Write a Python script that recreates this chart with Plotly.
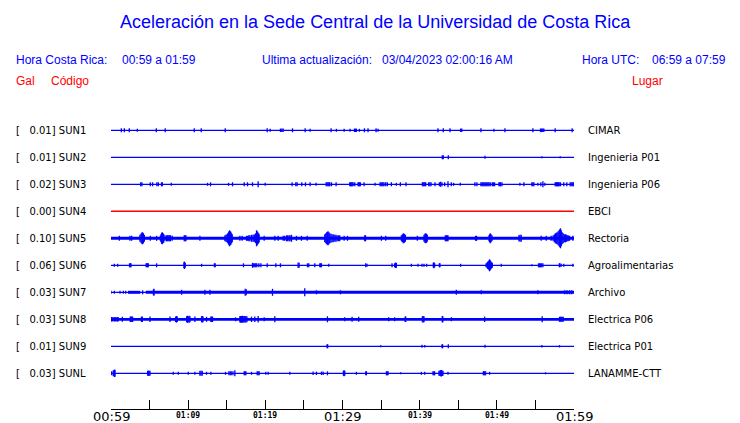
import plotly.graph_objects as go

# ---------------- data ----------------
codes = ["SUN1", "SUN2", "SUN3", "SUN4", "SUN5", "SUN6", "SUN7", "SUN8", "SUN9", "SUNL"]
places = ["CIMAR", "Ingenieria P01", "Ingenieria P06", "EBCI", "Rectoria",
          "Agroalimentarias", "Archivo", "Electrica P06", "Electrica P01", "LANAMME-CTT"]
peak_gal = ["0.01", "0.01", "0.02", "0.00", "0.10", "0.06", "0.03", "0.03", "0.01", "0.03"]
trace_colors = ["#0000ff", "#0000ff", "#0000ff", "#ff0000", "#0000ff",
                "#0000ff", "#0000ff", "#0000ff", "#0000ff", "#0000ff"]

# minutes after 00:59 (local time)
tick_minutes = [0, 5, 10, 15, 20, 25, 30, 35, 40, 45, 50, 55, 60]
tick_labels = ["00:59", "", "01:09", "", "01:19", "", "01:29", "", "01:39", "", "01:49", "", "01:59"]
tick_major = [True, False, False, False, False, False, True, False, False, False, False, False, True]

# background noise level (half thickness, display px) over time spans [t0, t1, level]
sun1_noise = [[0, 60, 0.65]]
sun2_noise = [[0, 60, 0.65]]
sun3_noise = [[0, 60, 0.65]]
sun4_noise = [[0, 60, 0.7]]
sun5_noise = [[0, 60, 1.45]]
sun6_noise = [[0, 60, 0.6]]
sun7_noise = [[0, 60, 0.6], [2.2, 3.8, 1.5], [4.5, 60, 1.5]]
sun8_noise = [[0, 60, 1.4], [0, 1.0, 2.0]]
sun9_noise = [[0, 60, 0.6]]
sunl_noise = [[0, 60, 0.6]]

# bursts: (minute, half amplitude in display px)
sun1_events = [(1.34, 2), (1.73, 2), (2.37, 2), (3.41, 1.5), (5.87, 2), (7.03, 2), (10.79, 2),
               (11.69, 2), (14.80, 2), (20.24, 2), (20.63, 1.5), (21.96, 1.7), (22.14, 1.7),
               (22.31, 1.7), (23.52, 2), (25.16, 2), (25.80, 1.5), (28.52, 2), (29.21, 1.5),
               (30.21, 1.5), (30.98, 1.5), (31.55, 1.7), (31.67, 1.7), (31.80, 1.7), (32.19, 1.5),
               (32.84, 2), (33.31, 2), (34.35, 2), (34.61, 1.5), (42.37, 2), (43.06, 2),
               (43.93, 2), (45.30, 1.7), (45.45, 1.7), (47.94, 2), (49.62, 1.5), (51.05, 2),
               (54.67, 2), (55.66, 1.8), (55.80, 1.8), (55.95, 1.8), (56.09, 1.8), (57.56, 2),
               (59.76, 2)]
sun2_events = [(42.93, 2), (43.06, 2), (43.71, 2), (48.46, 1.5), (55.84, 1), (58.21, 1)]
sun3_events = [(3.84, 2), (4.01, 2), (5.09, 2), (5.39, 2), (5.95, 2), (6.13, 2), (6.55, 2),
               (6.65, 2), (7.81, 1.5), (12.51, 1.5), (12.90, 2), (15.23, 1.5), (15.75, 2),
               (17.26, 2), (17.69, 2), (18.34, 2), (19.07, 3), (19.98, 1.5), (23.47, 2),
               (23.95, 2), (24.12, 2), (24.72, 2), (25.20, 2), (25.80, 2), (26.58, 1.5),
               (27.88, 2), (28.00, 2), (28.13, 2), (28.25, 2), (28.35, 2), (28.57, 2),
               (29.17, 2), (30.94, 2), (31.05, 2), (31.15, 2), (31.26, 2), (31.37, 2),
               (31.59, 2), (32.02, 2), (32.10, 2), (32.19, 2), (32.32, 2), (32.79, 2),
               (34.22, 1.5), (34.87, 2), (35.00, 2), (35.12, 2), (35.25, 2), (35.38, 2),
               (35.60, 2), (35.81, 2), (36.33, 2), (36.98, 1.5), (37.50, 2), (38.23, 2),
               (40.35, 2), (40.45, 2), (40.56, 2), (40.67, 2), (40.78, 2), (41.17, 2),
               (41.32, 2), (41.47, 2), (41.99, 2), (42.55, 2), (42.72, 2.5), (42.89, 2),
               (43.24, 2), (43.67, 3), (44.10, 2), (44.40, 1.5), (45.26, 1.5), (47.16, 2),
               (47.42, 2), (47.94, 2), (48.07, 2), (48.20, 2), (48.33, 2), (48.46, 2),
               (48.59, 2), (48.72, 2), (48.85, 2), (48.98, 2), (49.15, 2), (49.41, 2),
               (49.55, 2), (49.71, 2), (50.27, 2), (50.38, 2), (50.49, 2), (50.66, 2),
               (52.99, 1.5), (53.51, 2), (54.54, 2), (54.67, 2), (54.80, 2), (55.32, 1.5),
               (55.71, 2), (55.97, 3), (56.22, 1.5), (57.56, 2), (57.66, 2), (57.74, 2),
               (57.83, 2), (57.91, 2), (58.00, 2), (58.08, 2), (58.25, 2), (58.68, 2),
               (59.07, 2), (59.50, 2), (59.62, 2), (59.76, 2), (59.88, 2), (59.98, 2)]
sun4_events = []
sun5_events = [(1.08, 2.5), (2.46, 2.5), (2.68, 2.5), (3.75, 3.5), (3.88, 4.5), (4.00, 5.5),
               (4.06, 6), (4.12, 5.5), (4.19, 5), (4.32, 3.5), (5.09, 2.5), (5.91, 2.5),
               (6.39, 2.5), (6.47, 4), (6.56, 5.5), (6.65, 6), (6.73, 5), (6.82, 4.5),
               (6.99, 3), (7.20, 3), (7.29, 3), (7.40, 3), (7.51, 3), (7.62, 3), (7.72, 3),
               (7.94, 2.5), (9.49, 3), (9.60, 3), (9.71, 3), (11.52, 2.5), (14.76, 3),
               (14.90, 3.5), (15.02, 4), (15.13, 5), (15.23, 6), (15.30, 7), (15.36, 8),
               (15.45, 7), (15.53, 6.5), (15.62, 5), (15.71, 4), (16.70, 2.5), (17.00, 2.5),
               (17.56, 2.5), (17.70, 2.5), (17.86, 3), (18.00, 3), (18.21, 3.5), (18.40, 3.5),
               (18.53, 3.5), (18.64, 4), (18.75, 5), (18.86, 8), (18.95, 7), (19.03, 6),
               (19.12, 5), (19.20, 4), (19.85, 2.5), (21.23, 2.5), (21.66, 2.5), (22.31, 2.5),
               (22.50, 2.5), (22.74, 3), (22.90, 3), (23.08, 3), (23.20, 3), (23.39, 3.5),
               (24.03, 2.5), (24.68, 2.5), (25.42, 2.5), (27.70, 4), (27.83, 5), (27.96, 6),
               (28.05, 6.5), (28.13, 7), (28.24, 6), (28.35, 5), (28.50, 4.5), (28.65, 4),
               (28.80, 4), (29.00, 3.5), (29.15, 3.5), (29.30, 3), (29.47, 3), (29.64, 3),
               (30.21, 2.5), (30.64, 2.5), (32.88, 3), (32.98, 3), (35.04, 2.5), (35.60, 2.5),
               (37.63, 3), (37.76, 4), (37.89, 5), (38.02, 4.5), (38.15, 3.5), (39.70, 2.5),
               (40.56, 3.5), (40.67, 4.5), (40.78, 5), (40.88, 4.5), (40.99, 3.5), (43.32, 3),
               (43.45, 3), (43.57, 3), (43.67, 3), (47.25, 2.5), (47.38, 2.5), (48.98, 3),
               (49.07, 4), (49.15, 5), (49.25, 4), (49.37, 3), (52.86, 3), (53.00, 3.5),
               (53.16, 3.5), (55.75, 2.5), (56.40, 2.5), (57.04, 2.5), (57.30, 3), (57.47, 4),
               (57.60, 5), (57.70, 5.5), (57.82, 6), (57.95, 7), (58.08, 8), (58.16, 9),
               (58.25, 10), (58.35, 8), (58.47, 6), (58.60, 5), (58.77, 4), (58.90, 4),
               (59.00, 3.5), (59.12, 3), (59.25, 3), (59.42, 2.5), (59.85, 2.5)]
sun6_events = [(0.43, 1.5), (0.86, 1.5), (2.40, 2), (2.50, 2), (2.59, 2), (4.55, 2), (4.65, 2),
               (4.75, 2), (4.83, 2), (5.91, 2), (9.45, 3), (9.52, 3.7), (9.62, 2.5), (11.74, 1.5),
               (13.40, 2), (13.50, 2), (17.17, 2), (18.34, 2.5), (18.50, 2), (18.64, 2),
               (18.77, 2), (18.90, 2), (19.16, 2), (19.42, 2), (20.24, 2), (21.36, 2), (21.96, 2),
               (24.25, 2.7), (24.38, 2.5), (25.46, 2), (25.63, 2), (26.41, 2), (27.06, 2),
               (27.17, 2), (27.27, 2), (28.22, 1.5), (33.01, 2), (33.18, 1.5), (36.42, 2),
               (36.76, 2), (36.87, 2.7), (36.98, 2.5), (38.92, 1.5), (39.78, 1.5), (40.30, 1.5),
               (40.56, 1.5), (40.91, 1.5), (41.77, 2.5), (41.86, 3), (41.94, 2), (42.55, 2),
               (42.63, 2), (45.31, 1.5), (48.60, 2), (48.72, 2.5), (48.80, 3.5), (48.89, 4),
               (48.98, 5), (49.06, 6), (49.14, 5), (49.23, 4), (49.32, 3), (49.41, 2.5),
               (50.57, 1.5), (54.54, 1), (55.40, 2), (55.53, 2), (55.66, 2), (55.80, 2),
               (55.97, 2), (58.10, 2), (58.17, 2), (58.34, 1.5), (58.68, 1.5), (59.85, 1.5)]
sun7_events = [(0.00, 1.5), (0.43, 1.5), (1.17, 1.5), (1.60, 1.5), (1.90, 1.5), (4.10, 2),
               (5.50, 3), (5.57, 3.5), (9.15, 2.5), (12.17, 2.5), (12.82, 2.5), (17.39, 3.5),
               (17.52, 3), (20.93, 3.5), (25.11, 4), (26.62, 2), (29.73, 2), (44.75, 2.5),
               (47.98, 2), (55.32, 2), (58.80, 2), (59.10, 2), (59.42, 2), (59.70, 2)]
sun8_events = [(0.09, 2.3), (0.52, 2.3), (0.86, 2.3), (1.47, 2.5), (2.50, 2.7), (2.59, 2.7),
               (2.70, 2.7), (2.80, 2.7), (3.95, 2.7), (4.06, 2.7), (5.05, 2.7), (7.64, 2.7),
               (8.37, 2.7), (8.48, 3.3), (8.59, 2.7), (9.80, 3), (9.90, 3.5), (10.01, 3),
               (10.12, 3.5), (10.23, 3), (10.87, 2.7), (11.74, 3), (11.82, 3.3), (11.91, 3),
               (12.38, 2.5), (12.94, 2.7), (13.05, 2.7), (13.16, 2.7), (16.14, 2), (16.70, 3.3),
               (16.80, 3.3), (16.91, 3.3), (17.02, 3.5), (17.13, 3.3), (17.24, 3.3), (17.35, 3.3),
               (17.48, 3.3), (17.61, 3), (18.21, 2.7), (18.64, 2.7), (19.07, 3.3), (19.85, 2),
               (21.23, 3), (28.05, 3), (30.29, 2), (31.24, 2.5), (32.10, 2.5), (35.99, 2),
               (36.76, 2), (38.12, 2.7), (38.19, 2.7), (40.35, 3), (40.45, 3.3), (40.56, 3),
               (42.93, 3.3), (43.00, 3), (44.10, 2), (48.42, 2.7), (55.88, 3), (58.12, 2.5),
               (58.23, 2.5), (58.34, 2.5), (58.47, 2.5), (58.60, 2.5)]
sun9_events = [(28.00, 2), (28.08, 2), (34.95, 1), (40.30, 1.5), (40.65, 1.2), (42.90, 2),
               (42.97, 2), (43.71, 2), (48.46, 1.5), (55.84, 1.2), (58.12, 1.2)]
sunl_events = [(0.09, 2), (0.30, 3), (0.45, 3.7), (0.52, 3.5), (4.75, 2.5), (4.83, 2.5),
               (4.94, 2.5), (5.05, 2.5), (8.07, 1.5), (8.72, 1.5), (10.01, 1.5), (10.87, 1.5),
               (11.52, 2.5), (11.67, 2.5), (11.82, 2.5), (12.38, 1.5), (12.94, 1.5), (14.84, 1.5),
               (15.28, 2), (15.45, 2), (15.58, 2), (15.80, 2), (16.05, 3), (17.26, 2), (17.37, 2),
               (17.48, 2), (18.21, 1.5), (18.94, 2), (19.07, 2), (19.20, 2), (20.06, 1.5),
               (20.37, 1.5), (23.17, 1.5), (26.19, 1.7), (26.62, 1.7), (27.27, 1.7), (27.49, 1.7),
               (28.05, 2), (30.12, 2.5), (30.20, 3), (30.29, 2.5), (31.80, 1.5), (33.02, 2),
               (33.10, 2), (35.69, 2), (35.80, 2), (35.90, 2), (37.54, 1), (40.22, 1.5),
               (40.65, 1.5), (41.73, 2), (41.84, 2), (41.94, 2), (42.50, 2.5), (42.62, 2.7),
               (42.72, 3), (42.81, 3.2), (42.92, 2.7), (43.02, 2.5), (43.67, 1.5), (48.25, 2),
               (48.33, 2), (48.44, 2), (48.54, 2), (49.06, 1.5), (56.31, 1)]

noise_by_station = [sun1_noise, sun2_noise, sun3_noise, sun4_noise, sun5_noise,
                    sun6_noise, sun7_noise, sun8_noise, sun9_noise, sunl_noise]
events_by_station = [sun1_events, sun2_events, sun3_events, sun4_events, sun5_events,
                     sun6_events, sun7_events, sun8_events, sun9_events, sunl_events]

# ---------------- layout geometry ----------------
W, H = 740, 423
L, R, T, B = 111, 740 - 574, 115, 423 - 409
PLOT_W, PLOT_H = W - L - R, H - T - B
ROW_PX = 27.0
FIRST_ROW_PX = 130.3
y_top = (T - FIRST_ROW_PX) / ROW_PX
y_bot = (H - B - FIRST_ROW_PX) / ROW_PX


def px_x(px):
    return (px - L) / PLOT_W


def px_y(py):
    return (H - B - py) / PLOT_H


fig = go.Figure()

for i, code in enumerate(codes):
    col = trace_colors[i]
    for t0, t1, lvl in noise_by_station[i]:
        fig.add_trace(go.Scatter(
            x=[t0, t1], y=[i, i], mode="lines",
            line=dict(color=col, width=2 * lvl), hoverinfo="skip", showlegend=False))
    ev = events_by_station[i]
    if ev:
        xs, ys = [], []
        for t, a in ev:
            xs += [t, t, None]
            ys += [i - a / ROW_PX, i + a / ROW_PX, None]
        fig.add_trace(go.Scatter(
            x=xs, y=ys, mode="lines", line=dict(color=col, width=1.3),
            hoverinfo="skip", showlegend=False, name=code))

ann = []
BLUE = "#0000ff"
RED = "#ff0000"
hdr_font = dict(family="Liberation Sans, Arial, sans-serif", size=12, color=BLUE)
red_font = dict(family="Liberation Sans, Arial, sans-serif", size=12, color=RED)


def text_at(txt, px, py, font, xanchor="left"):
    ann.append(dict(text=txt, x=px_x(px), y=px_y(py), xref="paper", yref="paper",
                    xanchor=xanchor, yanchor="middle", showarrow=False, font=font))


text_at("Aceleración en la Sede Central de la Universidad de Costa Rica", 375.5, 22,
        dict(family="Liberation Sans, Arial, sans-serif", size=18, color=BLUE), "center")
text_at("Hora Costa Rica:", 14, 60.5, hdr_font)
text_at("00:59 a 01:59", 119.5, 60.5, hdr_font)
text_at("Ultima actualización:", 259.5, 60.5, hdr_font)
text_at("03/04/2023 02:00:16 AM", 379.5, 60.5, hdr_font)
text_at("Hora UTC:", 579.5, 60.5, hdr_font)
text_at("06:59 a 07:59", 649.5, 60.5, hdr_font)
text_at("Gal", 14, 80.5, red_font)
text_at("Código", 49, 80.5, red_font)
text_at("Lugar", 629.5, 80.5, red_font)

lab_font = dict(family="DejaVu Sans, sans-serif", size=10, color="black")
for i, code in enumerate(codes):
    ann.append(dict(text="[\u00a0\u00a0\u00a0" + peak_gal[i] + "] " + code,
                    x=px_x(14), y=i, xref="paper", yref="y", xanchor="left",
                    yanchor="middle", showarrow=False, font=lab_font))
    ann.append(dict(text=places[i], x=px_x(586), y=i, xref="paper", yref="y",
                    xanchor="left", yanchor="middle", showarrow=False, font=lab_font))

for tv, tl, big in zip(tick_minutes, tick_labels, tick_major):
    if not tl:
        continue
    if big:
        f = dict(family="DejaVu Sans, sans-serif", size=13, color="black")
        yy = px_y(416.5)
    else:
        f = dict(family="DejaVu Sans Mono, monospace", size=8, color="black", weight="bold")
        yy = px_y(415)
    ann.append(dict(text=tl, x=tv, y=yy, xref="x", yref="paper", xanchor="center",
                    yanchor="middle", showarrow=False, font=f))

fig.update_layout(
    width=W, height=H, autosize=False,
    margin=dict(l=L, r=R, t=T, b=B, pad=0),
    paper_bgcolor="white", plot_bgcolor="white",
    showlegend=False, annotations=ann,
    xaxis=dict(range=[0, 60], tickvals=tick_minutes, ticktext=[""] * len(tick_minutes),
               ticks="inside", ticklen=9, tickwidth=1, tickcolor="black",
               showline=True, linecolor="black", linewidth=1, showgrid=False,
               zeroline=False, fixedrange=True, automargin=False),
    yaxis=dict(range=[y_bot, y_top], visible=False, showgrid=False, zeroline=False,
               fixedrange=True, automargin=False),
)

fig.write_html("out.html", config={"displayModeBar": False},
               post_script="document.body.style.margin='0px';document.body.style.overflow='hidden';")
